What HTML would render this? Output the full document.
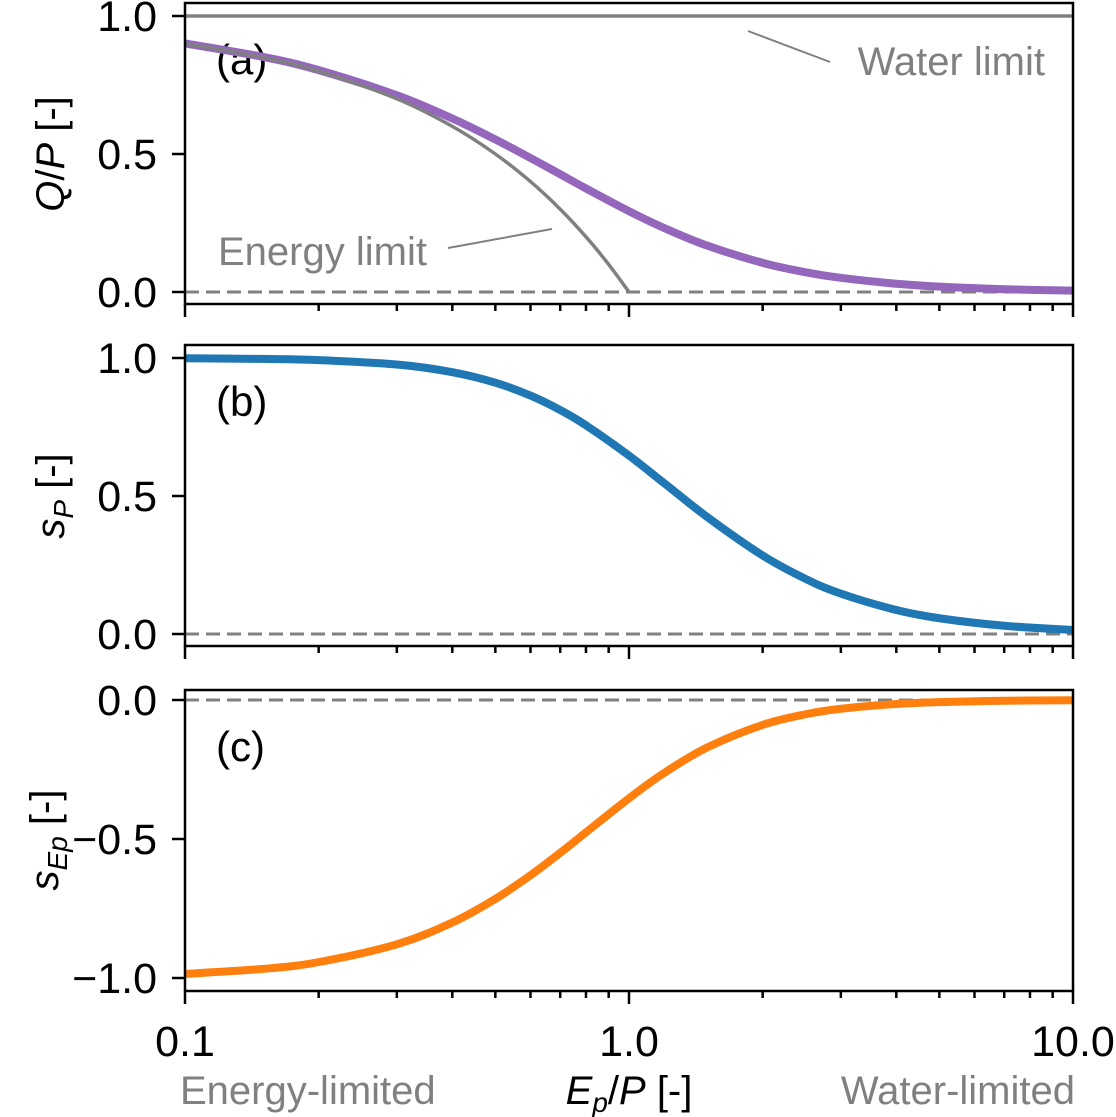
<!DOCTYPE html>
<html><head><meta charset="utf-8"><style>
html,body{margin:0;padding:0;background:#fff;}
svg{display:block;font-family:"Liberation Sans","DejaVu Sans",sans-serif;}
</style></head><body>
<svg id="chart" width="1116" height="1117" viewBox="0 0 1116 1117" xmlns="http://www.w3.org/2000/svg"></svg>
<script>
const xs = [0.1,0.15,0.2,0.3,0.4,0.5,0.6,0.7,0.8,1.0,1.2,1.5,2,2.5,3,4,5,7,10];
const qp = [0.9005,0.8517,0.8039,0.7127,0.6286,0.5528,0.4855,0.4265,0.3753,0.2929,0.2318,0.1680,0.1056,0.0715,0.0513,0.0299,0.0194,0.0101,0.0050];
const sP = [0.999,0.9967,0.9925,0.9763,0.9488,0.9106,0.8638,0.8114,0.7562,0.6464,0.5466,0.4240,0.2845,0.1996,0.1462,0.0869,0.0571,0.0298,0.0148];
const sEp = [-0.9852,-0.9672,-0.9429,-0.8787,-0.8004,-0.7155,-0.6305,-0.5498,-0.4761,-0.3536,-0.2624,-0.1707,-0.0894,-0.0512,-0.0316,-0.0143,-0.0075,-0.0028,-0.0010];
const energyX = [0.1,0.15,0.2,0.3,0.4,0.5,0.6,0.7,0.8,0.9,1.0];
const energyY = [0.9,0.85,0.8,0.7,0.6,0.5,0.4,0.3,0.2,0.1,0.0];
const xTicks = [0.1,1,10];
const xTickLabels = ["0.1","1.0","10.0"];
const yTicksA = [0,0.5,1], yTicksB = [0,0.5,1], yTicksC = [-1,-0.5,0];

const svg = document.getElementById('chart');
const NS = "http://www.w3.org/2000/svg";
const X0 = 185, X1 = 1073;
function xS(v){ return X0 + (Math.log10(v) + 1) / 2 * (X1 - X0); }
function mk(tag, attrs, parent){
  const e = document.createElementNS(NS, tag);
  for (const k in attrs) e.setAttribute(k, attrs[k]);
  (parent || svg).appendChild(e);
  return e;
}
function fmt(v){ return (v < 0 ? "\u2212" : "") + Math.abs(v).toFixed(1); }
function smooth(pts){
  let d = "M" + pts[0][0] + "," + pts[0][1];
  for (let i = 0; i < pts.length - 1; i++){
    const p0 = pts[Math.max(0,i-1)], p1 = pts[i], p2 = pts[i+1], p3 = pts[Math.min(pts.length-1,i+2)];
    const c1x = p1[0] + (p2[0]-p0[0])/6, c1y = p1[1] + (p2[1]-p0[1])/6;
    const c2x = p2[0] - (p3[0]-p1[0])/6, c2y = p2[1] - (p3[1]-p1[1])/6;
    d += " C" + c1x + "," + c1y + " " + c2x + "," + c2y + " " + p2[0] + "," + p2[1];
  }
  return d;
}
function panel(name, top, bottom, yA, yB, vA, vB, yticks, label){
  const g = mk('g', {});
  
  
  const yS = v => yA + (v - vA) / (vB - vA) * (yB - yA);
  for (let d = -1; d < 1; d++){
    for (let m = 1; m < 10; m++){
      const v = m * Math.pow(10, d), x = xS(v);
      const t = mk('line', {x1:x, x2:x, y1:bottom, y2:bottom + (m===1?13:7), stroke:'#000', 'stroke-width':2.5}, g);
      
      
    }
  }
  const tl = mk('line', {x1:xS(10), x2:xS(10), y1:bottom, y2:bottom+13, stroke:'#000','stroke-width':2.5}, g);
  
  
  yticks.forEach(v => {
    const y = yS(v);
    const t = mk('line', {x1:X0-13, x2:X0, y1:y, y2:y, stroke:'#000','stroke-width':2.5}, g);
    
    
    const tx = mk('text', {x:X0-28, y:y+15, 'text-anchor':'end', 'font-size':43}, g);
    tx.textContent = fmt(v);
    
    
  });
  const lb = mk('text', {x:216, y:top+71, 'font-size':42}, g);
  lb.textContent = label;
  
  
  return {g, yS};
}
function frame(g, top, bottom){
  const r = mk('rect', {x:X0, y:top, width:X1-X0, height:bottom-top, fill:'none', stroke:'#000','stroke-width':2.5}, g);
  
  
}
function zeroLine(g, y){
  const l = mk('line', {x1:X0, x2:X1, y1:y, y2:y, stroke:'#808080','stroke-width':3,'stroke-dasharray':'14,7'}, g);
  
  
}
function curve(g, xv, yv, yS, color, w, name){
  const pts = xv.map((x,i)=>[xS(x), yS(yv[i])]);
  const p = mk('path', {d:smooth(pts), fill:'none', stroke:color, 'stroke-width':w, 'stroke-linecap':'butt'}, g);
  
  
}

// Panel a
const A = panel('panel-a', 3, 304, 16, 292, 1, 0, yTicksA, '(a)');
zeroLine(A.g, A.yS(0));
const wl = mk('line', {x1:X0, x2:X1, y1:A.yS(1), y2:A.yS(1), stroke:'#808080','stroke-width':3.5}, A.g);


curve(A.g, xs, qp, A.yS, '#9467bd', 8, 'q-over-p-curve');
curve(A.g, energyX, energyY, A.yS, '#808080', 3.5, 'energy-limit-line');
const a1 = mk('line', {x1:748, y1:31, x2:830, y2:62, stroke:'#808080','stroke-width':2}, A.g);


const t1 = mk('text', {x:1045, y:75, 'text-anchor':'end', 'font-size':40, fill:'#808080'}, A.g);
t1.textContent = 'Water limit';


const a2 = mk('line', {x1:448, y1:248, x2:552, y2:229, stroke:'#808080','stroke-width':2}, A.g);


const t2 = mk('text', {x:218, y:265, 'font-size':40, fill:'#808080'}, A.g);
t2.textContent = 'Energy limit';


frame(A.g, 3, 304);
const ya = mk('text', {transform:'translate(64,154) rotate(-90)', 'text-anchor':'middle','font-size':40}, A.g);
ya.innerHTML = '<tspan font-style="italic">Q</tspan>/<tspan font-style="italic">P</tspan> [-]';



// Panel b
const B = panel('panel-b', 345, 646, 358, 634, 1, 0, yTicksB, '(b)');
zeroLine(B.g, B.yS(0));
curve(B.g, xs, sP, B.yS, '#1f77b4', 8, 'sp-curve');
frame(B.g, 345, 646);
const yb = mk('text', {transform:'translate(64,496) rotate(-90)', 'text-anchor':'middle','font-size':40}, B.g);
yb.innerHTML = '<tspan font-style="italic">s</tspan><tspan font-style="italic" font-size="28" dy="9">P</tspan><tspan dy="-9"> [-]</tspan>';



// Panel c
const C = panel('panel-c', 690, 991, 700, 978, 0, -1, yTicksC, '(c)');
zeroLine(C.g, C.yS(0));
curve(C.g, xs, sEp, C.yS, '#ff7f0e', 8, 'sep-curve');
frame(C.g, 690, 991);
const yc = mk('text', {transform:'translate(58,840) rotate(-90)', 'text-anchor':'middle','font-size':40}, C.g);
yc.innerHTML = '<tspan font-style="italic">s</tspan><tspan font-style="italic" font-size="28" dy="9">Ep</tspan><tspan dy="-9"> [-]</tspan>';



xTicks.forEach((v,i) => {
  const t = mk('text', {x:xS(v), y:1056, 'text-anchor':'middle','font-size':43});
  t.textContent = xTickLabels[i];
  
  
});
const xt = mk('text', {x:629, y:1104, 'text-anchor':'middle','font-size':40});
xt.innerHTML = '<tspan font-style="italic">E</tspan><tspan font-style="italic" font-size="28" dy="8">p</tspan><tspan dy="-8">/</tspan><tspan font-style="italic">P</tspan> [-]';


const el = mk('text', {x:180, y:1104, 'font-size':40, fill:'#808080'});
el.textContent = 'Energy-limited';


const wlm = mk('text', {x:1075, y:1104, 'text-anchor':'end','font-size':40, fill:'#808080'});
wlm.textContent = 'Water-limited';


</script>
</body></html>
